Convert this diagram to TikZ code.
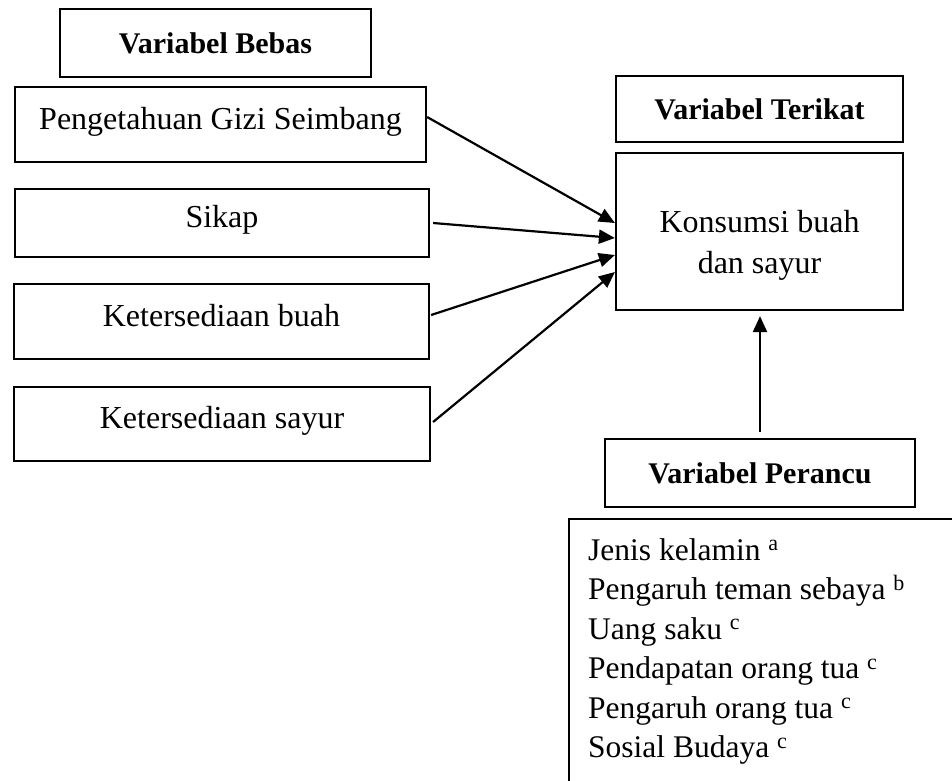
\documentclass[tikz,border=0pt]{standalone}
\usepackage{fontspec}
\setmainfont{Liberation Serif}
\usetikzlibrary{arrows.meta}
\begin{document}
\begin{tikzpicture}[x=1pt,y=-1pt,
  every node/.style={font=\fontsize{32}{40}\selectfont},
  hdr/.style={draw, line width=2.2pt, inner sep=0pt, font=\fontsize{30}{40}\selectfont\bfseries, text height=20pt, text depth=0pt},
  cbox/.style={draw, line width=2.2pt, inner sep=0pt, text height=21pt, text depth=12pt},
  plainbox/.style={draw, line width=2.2pt, inner sep=0pt},
  txt/.style={inner sep=0pt, anchor=base},
  item/.style={inner sep=0pt, anchor=base west, font=\fontsize{31.5}{40}\selectfont},
  arr/.style={line width=2.2pt, -{Triangle[length=16pt,width=14pt]}}
]
\useasboundingbox (0,0) rectangle (952,780);
\fill[white] (0,0) rectangle (952,780);

\node[hdr, minimum width=311pt, minimum height=68pt] (hb) at (215.5,43) {Variabel Bebas};
\node[cbox, minimum width=411pt, minimum height=75pt] (p1) at (220.5,124.5) {Pengetahuan Gizi Seimbang};
\node[cbox, minimum width=414pt, minimum height=68pt] (p2) at (222,223) {Sikap};
\node[cbox, minimum width=415pt, minimum height=75pt] (p3) at (221.5,321.5) {Ketersediaan buah};
\node[cbox, minimum width=416pt, minimum height=74pt] (p4) at (222,424) {Ketersediaan sayur};

\node[hdr, minimum width=287pt, minimum height=66pt] (ht) at (759.5,109) {Variabel Terikat};
\node[plainbox, minimum width=287pt, minimum height=157pt] (k) at (759.5,231.5) {};
\node[txt] (k1) at (759.5,232) {Konsumsi buah};
\node[txt] (k2) at (759.5,273) {dan sayur};

\node[hdr, minimum width=310pt, minimum height=68pt] (hp) at (760,473) {Variabel Perancu};

\node[plainbox, anchor=north west, minimum width=440pt, minimum height=320pt] (lst) at (568,518) {};
\node[item] (l1) at (588,560) {Jenis kelamin \textsuperscript{a}};
\node[item] (l2) at (588,599.5) {Pengaruh teman sebaya \textsuperscript{b}};
\node[item] (l3) at (588,639) {Uang saku \textsuperscript{c}};
\node[item] (l4) at (588,678.5) {Pendapatan orang tua \textsuperscript{c}};
\node[item] (l5) at (588,718) {Pengaruh orang tua \textsuperscript{c}};
\node[item] (l6) at (588,757.5) {Sosial Budaya \textsuperscript{c}};

\draw[arr] ([yshift=7.5pt]p1.east) -- ([yshift=8.5pt]k.west);
\draw[arr] ([xshift=3pt]p2.east) -- ([yshift=-6.5pt]k.west);
\draw[arr] ([xshift=1pt,yshift=6.5pt]p3.east) -- ([yshift=-23.5pt]k.west);
\draw[arr] ([xshift=2pt,yshift=2pt]p4.east) -- ([yshift=-40.5pt]k.west);
\draw[arr, shorten <=6pt, shorten >=5pt] (hp.north) -- (hp.north |- k.south);
\end{tikzpicture}
\end{document}
